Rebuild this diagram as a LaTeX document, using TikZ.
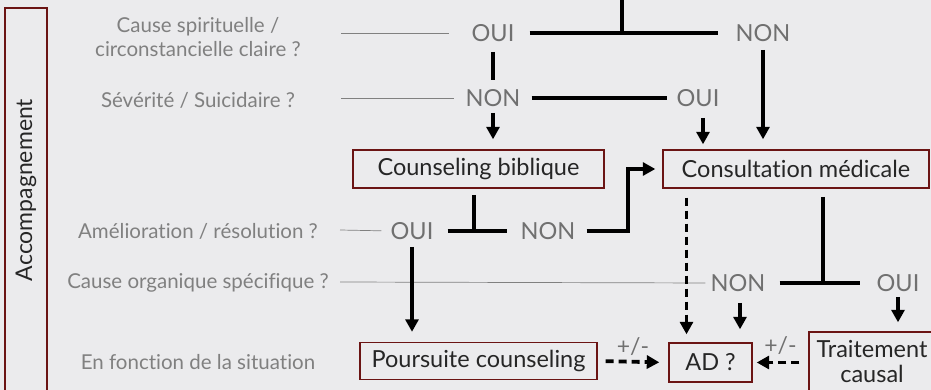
\documentclass[tikz,border=0pt]{standalone}
\usepackage{fontspec}
\setmainfont{Lato}[Ligatures=NoCommon]
\usetikzlibrary{arrows.meta}
\definecolor{bg}{HTML}{EBEBED}
\definecolor{qgray}{HTML}{808080}
\definecolor{agray}{HTML}{707070}
\definecolor{boxred}{HTML}{6B1414}
\definecolor{textdark}{HTML}{262626}
\begin{document}
\begin{tikzpicture}[x=1pt, y=-1pt, >={Triangle[length=12.5pt,width=13pt]},
  ques/.style={text=qgray, align=center, font=\fontsize{20.5}{24}\selectfont},
  ans/.style={text=agray, inner sep=0pt, font=\fontsize{23.5}{26}\selectfont},
  boxed/.style={draw=boxred, line width=1.4pt, text=textdark, inner sep=0pt, minimum height=38pt, align=center, font=\fontsize{23.5}{25}\selectfont},
  conn/.style={line width=3.8pt},
  dconn/.style={line width=3.8pt, dash pattern=on 8pt off 5pt},
  guide/.style={line width=0.7pt, draw=qgray},
  pm/.style={text=agray, inner sep=1pt, font=\fontsize{23}{24}\selectfont}]
\useasboundingbox[fill=bg] (0,0) rectangle (931,390);
% left column
\node[boxed, rotate=90, minimum width=440, minimum height=42] (acc) at (26,228) {};
\node[rotate=90, text=textdark, font=\fontsize{23}{24}\selectfont] (acclabel) at (26,190) {Accompagnement};
\node[ques] (q1) at (198,37) {Cause spirituelle /\\circonstancielle claire ?};
\node[ques] (q2) at (198,100) {Sévérité / Suicidaire ?};
\node[ques] (q3) at (198,231) {Amélioration / résolution ?};
\node[ques] (q4) at (198,283) {Cause organique spécifique ?};
\node[ques] (q5) at (198,362) {En fonction de la situation};
% answers
\foreach \n/\x/\y/\t in {oui1/493/33/OUI, non1/763/33/NON, non2/493/98/NON, oui2/698/98/OUI,
  oui3/412/231/OUI, non3/548/231/NON, non4/738/283/NON, oui4/898/283/OUI}
  \node[ans] (\n) at (\x,\y) {\t};
% boxes
\node[boxed, minimum width=251] (cb) at (478.5,169) {Counseling biblique};
\node[boxed, minimum width=266] (cm) at (796,169) {Consultation médicale};
\node[boxed, minimum width=237, minimum height=37] (pc) at (478.5,361) {Poursuite counseling};
\node[boxed, minimum width=83, minimum height=39] (ad) at (710.5,362.5) {AD ?};
\node[boxed, minimum width=126, minimum height=60] (tc) at (872,362) {Traitement\\causal};
\path (341,33) coordinate (g1) (341,98) coordinate (g2) (340,230) coordinate (g3) (340,282) coordinate (g4)
  (622,-2) coordinate (j1) (474,195) coordinate (j2) (823,197) coordinate (j3) (628,0) coordinate (k)
  ([xshift=-24]ad.north) coordinate (adl) ([xshift=5]oui2.south) coordinate (oui2r) ([xshift=2]non4.south) coordinate (non4r);
% guide lines
\foreach \g/\a/\s in {g1/oui1/22, g2/non2/11, g3/oui3/9, g4/non4/5}
  \draw[guide, shorten >=\s] (\g) -- (\a.west);
% decisions
\draw[conn] ([xshift=15]oui1.east) -- ([xshift=-17]non1.west);
\draw[conn] (j1) -- (j1 |- oui1);
\draw[conn, shorten <=10, shorten >=9] (oui1.south) -- (non2.north);
\draw[conn] ([xshift=11]non2.east) -- ([xshift=-9]oui2.west);
\draw[conn, ->, shorten <=6, shorten >=10] (non2.south) -- (non2.south |- cb.north);
\draw[conn, ->, shorten <=11, shorten >=5] (oui2r) -- (oui2r |- cm.north);
\draw[conn, ->, shorten <=8, shorten >=10] (non1.south) -- (non1.south |- cm.north);
\draw[conn] (j2) -- (j2 |- oui3);
\draw[conn] ([xshift=14]oui3.east) -- ([xshift=-13]non3.west);
\draw[conn, ->, shorten >=7] ([xshift=11]non3.east) -| (k |- cm.west) -- (cm.west);
\draw[conn, ->, shorten <=7, shorten >=10] (oui3.south) -- (oui3.south |- pc.north);
\draw[dconn, ->, shorten <=9, shorten >=8] (adl |- cm.south) -- (adl);
\draw[conn] (j3) -- (j3 |- non4);
\draw[conn] ([xshift=14]non4.east) -- ([xshift=-16]oui4.west);
\draw[conn, ->, shorten <=11, shorten >=13] (non4r) -- (non4r |- ad.north);
\draw[conn, ->, shorten <=5, shorten >=9] (oui4.south) -- (oui4.south |- tc.north);
\draw[dconn, ->, shorten <=8, shorten >=9] (pc.east) -- (ad.west) node[pm, midway, above=3] (pm1) {+/-};
\draw[dconn, ->, shorten <=9, shorten >=4] (tc.west |- ad.east) -- (ad.east) node[pm, midway, above=5] (pm2) {+/-};
\end{tikzpicture}
\end{document}
